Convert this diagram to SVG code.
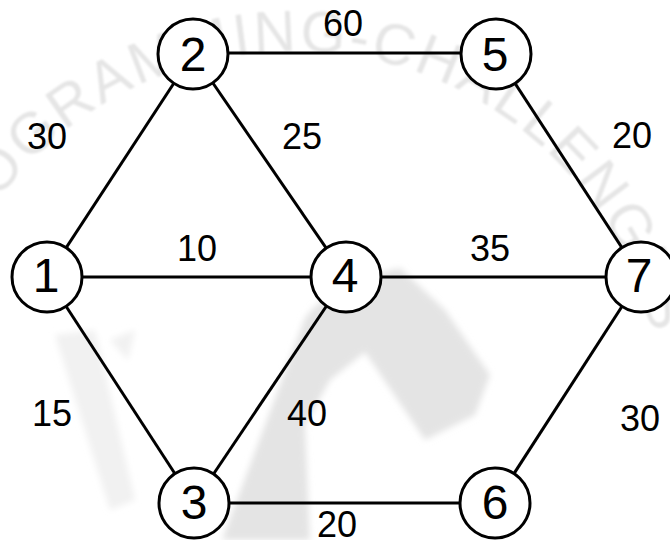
<svg xmlns="http://www.w3.org/2000/svg" width="670" height="540" viewBox="0 0 670 540">
  <style>
    .edge { stroke: #000; stroke-width: 3; fill: none; }
    .node circle { fill: #fff; stroke: #000; stroke-width: 3; }
    .node text { font-family: "Liberation Sans", Arial, sans-serif; font-size: 48px; text-anchor: middle; fill: #000; }
    .lbl { font-family: "Liberation Sans", Arial, sans-serif; font-size: 36px; text-anchor: middle; fill: #000; }
    .wm { font-family: "Liberation Sans", Arial, sans-serif; font-size: 58px; fill: #e5e5e5; letter-spacing: 2.9px; }
  </style>
  <defs>
    <filter id="soft" x="-20%" y="-20%" width="140%" height="140%">
      <feGaussianBlur stdDeviation="3"/>
    </filter>
    <filter id="soft1" x="-5%" y="-5%" width="110%" height="110%">
      <feGaussianBlur stdDeviation="1"/>
    </filter>
    <path id="seal" d="M -45.1,274.6 A 369,369 0 0 1 661.6,387.8"/>
  </defs>
  <rect width="670" height="540" fill="#fff"/>
  <g id="watermark">
    <text class="wm" filter="url(#soft1)"><textPath href="#seal">PROGRAMMING-CHALLENGES</textPath></text>
    <path d="M 222,540 L 305,318 Q 330,284 400,268 L 445,310 L 490,375 L 475,415 L 425,440 L 365,352 L 330,380 L 305,425 L 310,540 Z" fill="#e4e4e4" filter="url(#soft)"/>
    <path d="M 55,335 L 95,330 L 135,500 L 110,510 Z" fill="#f1f1f1" filter="url(#soft)"/>
    <path d="M 110,340 L 135,330 L 128,360 Z" fill="#f1f1f1" filter="url(#soft)"/>
  </g>
  <g id="connectors">
    <line class="edge" x1="47" y1="277" x2="193" y2="54"/>
    <line class="edge" x1="47" y1="277" x2="346" y2="277"/>
    <line class="edge" x1="47" y1="277" x2="194" y2="503"/>
    <line class="edge" x1="193" y1="54" x2="346" y2="277"/>
    <line class="edge" x1="193" y1="53" x2="496" y2="53"/>
    <line class="edge" x1="194" y1="503" x2="346" y2="277"/>
    <line class="edge" x1="194" y1="503" x2="495" y2="503"/>
    <line class="edge" x1="346" y1="277" x2="641" y2="277"/>
    <line class="edge" x1="496" y1="54" x2="641" y2="277"/>
    <line class="edge" x1="495" y1="503" x2="641" y2="277"/>
  </g>
  <g id="labels">
    <text class="lbl" x="343" y="36">60</text>
    <text class="lbl" x="47" y="149">30</text>
    <text class="lbl" x="302" y="149">25</text>
    <text class="lbl" x="632" y="148">20</text>
    <text class="lbl" x="197" y="261">10</text>
    <text class="lbl" x="490" y="261">35</text>
    <text class="lbl" x="52" y="426">15</text>
    <text class="lbl" x="307" y="426">40</text>
    <text class="lbl" x="640" y="431">30</text>
    <text class="lbl" x="337" y="537">20</text>
  </g>
  <g id="node1" class="node"><circle cx="47" cy="277" r="35"/><text x="46" y="292">1</text></g>
  <g id="node2" class="node"><circle cx="193" cy="54" r="35"/><text x="193" y="71">2</text></g>
  <g id="node5" class="node"><circle cx="496" cy="54" r="35"/><text x="495" y="71">5</text></g>
  <g id="node4" class="node"><circle cx="346" cy="277" r="35"/><text x="345" y="292">4</text></g>
  <g id="node7" class="node"><circle cx="641" cy="277" r="35"/><text x="639" y="292">7</text></g>
  <g id="node3" class="node"><circle cx="194" cy="503" r="35"/><text x="194" y="519">3</text></g>
  <g id="node6" class="node"><circle cx="495" cy="503" r="35"/><text x="495" y="519">6</text></g>
</svg>
